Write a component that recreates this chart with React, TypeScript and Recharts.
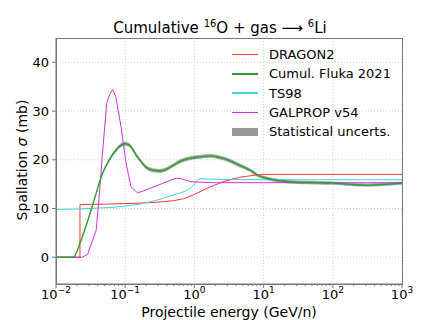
import React from "react";
import {
  ComposedChart,
  Line,
  Area,
  XAxis,
  YAxis,
  CartesianGrid,
} from "recharts";

// Cumul. Fluka 2021
const flukaE = [
  0.01, 0.0178, 0.023, 0.03, 0.038, 0.047, 0.059, 0.074, 0.085, 0.1, 0.115,
  0.13, 0.15, 0.17, 0.2, 0.23, 0.27, 0.32, 0.4, 0.5, 0.65, 0.86, 1.2, 1.7, 2.3,
  3, 4, 5, 7, 8, 11, 17, 30, 60, 100, 200, 300, 500, 1000,
];
const flukaY = [
  0, 0, 3.5, 8.3, 13.1, 17.2, 20.0, 22.0, 22.9, 23.3, 23.0, 22.0, 20.6, 19.6,
  18.5, 18.0, 17.8, 17.7, 18.1, 18.9, 19.8, 20.3, 20.6, 20.8, 20.5, 20.0, 19.2,
  18.6, 17.5, 16.9, 16.2, 15.7, 15.4, 15.3, 15.2, 14.9, 14.8, 14.9, 15.2,
];
const flukaErr = [
  0, 0, 0.15, 0.2, 0.25, 0.3, 0.35, 0.4, 0.4, 0.4, 0.4, 0.4, 0.4, 0.4, 0.4,
  0.4, 0.4, 0.4, 0.4, 0.4, 0.4, 0.4, 0.4, 0.4, 0.4, 0.4, 0.4, 0.4, 0.35, 0.35,
  0.35, 0.35, 0.35, 0.35, 0.35, 0.35, 0.35, 0.35, 0.35,
];

// DRAGON2
const dragonE = [
  0.01, 0.0222, 0.0222, 0.05, 0.1, 0.164, 0.3, 0.5, 0.7, 0.86, 1, 1.5, 2.6, 4.5,
  8, 12, 20, 1000,
];
const dragonY = [
  0, 0, 10.8, 10.9, 11.0, 11.1, 11.3, 11.6, 12.0, 12.5, 12.9, 14.1, 15.5, 16.4,
  16.9, 17.0, 17.0, 17.0,
];

// TS98
const ts98E = [
  0.01, 0.03, 0.1, 0.16, 0.3, 0.45, 0.62, 0.75, 0.9, 1.05, 1.2, 2, 10, 100, 1000,
];
const ts98Y = [
  9.8, 10.0, 10.5, 10.9, 11.8, 12.6, 13.2, 13.6, 14.3, 15.3, 16.1, 16.0, 15.9,
  15.9, 15.9,
];

// GALPROP v54
const galpropE = [
  0.01, 0.0238, 0.0286, 0.038, 0.042, 0.047, 0.054, 0.06, 0.066, 0.073, 0.087,
  0.103, 0.121, 0.151, 0.2, 0.3, 0.45, 0.555, 0.62, 0.75, 0.9, 1.2, 2, 10, 100,
  1000,
];
const galpropY = [
  0, 0, 0.6, 5.5, 12.4, 21.3, 31.6, 33.5, 34.4, 33.0, 26.8, 19.3, 14.5, 13.2,
  13.8, 14.8, 15.8, 16.2, 16.2, 15.8, 15.5, 15.4, 15.3, 15.3, 15.3, 15.3,
];

const xMajor = [0.01, 0.1, 1, 10, 100, 1000];
const minorSteps = [2, 3, 4, 5, 6, 7, 8, 9];
const yTicks = [0, 10, 20, 30, 40];

const FONT = "'DejaVu Sans', sans-serif";

const xAll = [
  ...xMajor,
  ...xMajor.slice(0, -1).flatMap((d) => minorSteps.map((m) => d * m)),
].sort((a, b) => a - b);

const fluka = flukaE.map((e, i) => ({
  e,
  y: flukaY[i],
  band: [flukaY[i] - flukaErr[i], flukaY[i] + flukaErr[i]],
}));
const dragon = dragonE.map((e, i) => ({ e, y: dragonY[i] }));
const ts98 = ts98E.map((e, i) => ({ e, y: ts98Y[i] }));
const galprop = galpropE.map((e, i) => ({ e, y: galpropY[i] }));

const legendItems = [
  { name: "DRAGON2", color: "#ff3333", band: false },
  { name: "Cumul. Fluka 2021", color: "#2e9e2e", band: false },
  { name: "TS98", color: "#3fd4d0", band: false },
  { name: "GALPROP v54", color: "#cc33dd", band: false },
  { name: "Statistical uncerts.", color: "#999999", band: true },
];

function PowTick(props: any) {
  const { x, y, payload } = props;
  const v = payload.value;
  const lg = Math.log10(v);
  const exp = Math.round(lg);
  const major = Math.abs(lg - exp) < 1e-6;
  const axisY = y - 6;
  return (
    <g>
      <line
        x1={x}
        x2={x}
        y1={axisY}
        y2={axisY + (major ? 4 : 2)}
        stroke="#555"
        strokeWidth={0.8}
      />
      {major && (
        <text
          x={x}
          y={axisY + 15}
          textAnchor="middle"
          fontSize={13}
          fontFamily={FONT}
          fill="#000"
        >
          <tspan>10</tspan>
          <tspan dy={-6} fontSize={9}>
            {exp < 0 ? "\u2212" + -exp : String(exp)}
          </tspan>
        </text>
      )}
    </g>
  );
}

export default function App() {
  return (
    <div
      style={{
        position: "absolute",
        left: 0,
        top: 0,
        width: 447,
        height: 320,
        background: "#fff",
        fontFamily: FONT,
      }}
    >
      <ComposedChart
        width={447}
        height={320}
        margin={{ top: 38, right: 45, bottom: 0, left: 16 }}
      >
        <CartesianGrid
          stroke="#d0d0d0"
          strokeDasharray="1 2"
          horizontalValues={yTicks}
          verticalValues={xMajor}
        />
        <XAxis
          dataKey="e"
          type="number"
          scale="log"
          domain={[0.01, 1000]}
          ticks={xAll}
          allowDataOverflow
          height={36}
          tick={<PowTick />}
          tickLine={false}
          tickSize={4}
          tickMargin={2}
          stroke="#777"
          interval={0}
        />
        <YAxis
          type="number"
          domain={[-5.5, 45]}
          ticks={yTicks}
          allowDataOverflow
          width={40}
          tickSize={4}
          tickMargin={3}
          stroke="#777"
          tick={{ fill: "#000", fontSize: 13, fontFamily: FONT }}
        />
        <Area
          data={fluka}
          dataKey="band"
          type="monotone"
          stroke="none"
          fill="#888"
          fillOpacity={0.75}
          isAnimationActive={false}
          dot={false}
          activeDot={false}
        />
        <Line
          data={dragon}
          dataKey="y"
          type="linear"
          stroke="#ff3333"
          strokeWidth={1}
          dot={false}
          isAnimationActive={false}
        />
        <Line
          data={ts98}
          dataKey="y"
          type="monotone"
          stroke="#3fd4d0"
          strokeWidth={1}
          dot={false}
          isAnimationActive={false}
        />
        <Line
          data={galprop}
          dataKey="y"
          type="linear"
          stroke="#cc33dd"
          strokeWidth={1}
          dot={false}
          isAnimationActive={false}
        />
        <Line
          data={fluka}
          dataKey="y"
          type="monotone"
          stroke="#2e9e2e"
          strokeWidth={1.4}
          dot={false}
          isAnimationActive={false}
        />
      </ComposedChart>

      {/* axes frame */}
      <div
        style={{
          position: "absolute",
          left: 56,
          top: 38,
          width: 345,
          height: 245,
          border: "1px solid #777",
          pointerEvents: "none",
        }}
      />

      {/* title */}
      <div
        style={{
          position: "absolute",
          left: 0,
          width: 440,
          top: 14,
          textAlign: "center",
          fontSize: 15,
          lineHeight: "20px",
        }}
      >
        Cumulative <sup style={{ fontSize: 10 }}>16</sup>O + gas ⟶{" "}
        <sup style={{ fontSize: 10 }}>6</sup>Li
      </div>

      {/* y label */}
      <div
        style={{
          position: "absolute",
          left: 22,
          top: 160,
          transform: "translate(-50%, -50%) rotate(-90deg)",
          whiteSpace: "nowrap",
          fontSize: 14,
        }}
      >
        Spallation <i>σ</i> (mb)
      </div>

      {/* x label */}
      <div
        style={{
          position: "absolute",
          left: 56,
          width: 346,
          top: 303,
          textAlign: "center",
          fontSize: 14,
          lineHeight: "18px",
        }}
      >
        Projectile energy (GeV/n)
      </div>

      {/* legend */}
      <div style={{ position: "absolute", left: 232, top: 45 }}>
        {legendItems.map((it) => (
          <div
            key={it.name}
            style={{
              display: "flex",
              alignItems: "center",
              height: 19.3,
              fontSize: 13,
            }}
          >
            <div
              style={{
                width: 26,
                height: it.band ? 8 : 1.5,
                background: it.color,
                marginRight: 11,
              }}
            />
            <span>{it.name}</span>
          </div>
        ))}
      </div>
    </div>
  );
}
